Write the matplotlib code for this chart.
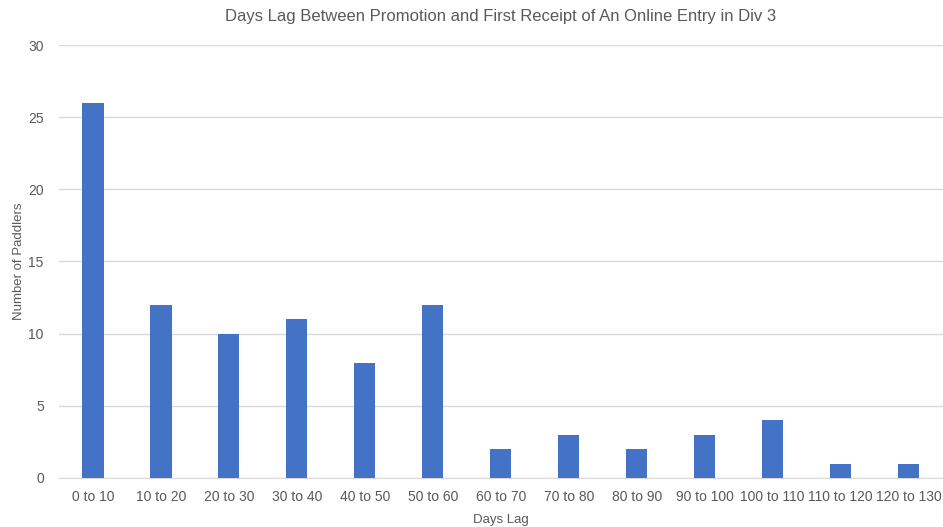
import matplotlib
matplotlib.use("Agg")
import matplotlib.pyplot as plt
import numpy as np

# *** data ***
categories = ["0 to 10", "10 to 20", "20 to 30", "30 to 40", "40 to 50", "50 to 60",
              "60 to 70", "70 to 80", "80 to 90", "90 to 100", "100 to 110",
              "110 to 120", "120 to 130"]
paddlers = [26, 12, 10, 11, 8, 12, 2, 3, 2, 3, 4, 1, 1]
y_ticks = [0, 5, 10, 15, 20, 25, 30]

plt.rcParams["font.family"] = ["Liberation Sans", "DejaVu Sans"]
text_color = "#595959"

fig = plt.figure(figsize=(9.43, 5.27), dpi=100)
ax = fig.add_axes([0.0626, 0.093, 0.937, 0.8216])

x = np.arange(len(categories))
ax.bar(x, paddlers, width=0.31, color="#4472C4", zorder=3)

ax.set_xlim(-0.5, len(categories) - 0.5)
ax.set_ylim(0, 30)
ax.set_yticks(y_ticks)
ax.set_xticks(x)
ax.set_xticklabels(categories)
ax.yaxis.grid(True, color="#D9D9D9", linewidth=1, zorder=0)

for side in ["left", "right", "top"]:
    ax.spines[side].set_visible(False)
ax.spines["bottom"].set_color("#D9D9D9")
ax.tick_params(axis="both", length=0, colors=text_color, labelsize=10)
ax.tick_params(axis="y", pad=11)
ax.tick_params(axis="x", pad=9)

ax.set_title("Days Lag Between Promotion and First Receipt of An Online Entry in Div 3",
             fontsize=12, color=text_color, pad=17)
ax.set_xlabel("Days Lag", fontsize=9.5, color=text_color, labelpad=7)
ax.set_ylabel("Number of Paddlers", fontsize=9.5, color=text_color, labelpad=2)

plt.savefig("out.png", dpi=100)
plt.close()
